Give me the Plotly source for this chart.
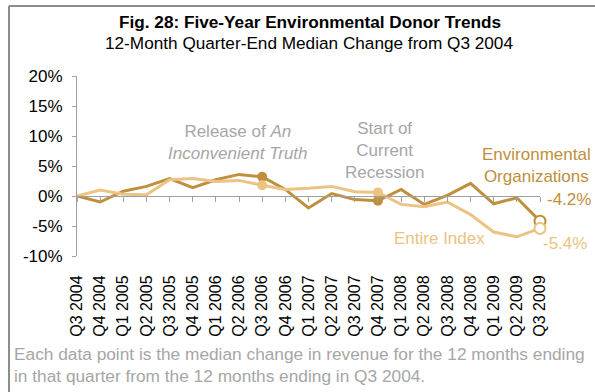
import plotly.graph_objects as go

# Quarter-end labels, Q3 2004 through Q3 2009
quarters = ["Q3 2004", "Q4 2004", "Q1 2005", "Q2 2005", "Q3 2005", "Q4 2005",
            "Q1 2006", "Q2 2006", "Q3 2006", "Q4 2006", "Q1 2007", "Q2 2007",
            "Q3 2007", "Q4 2007", "Q1 2008", "Q2 2008", "Q3 2008", "Q4 2008",
            "Q1 2009", "Q2 2009", "Q3 2009"]

# Median 12-month change from Q3 2004 (%)
env_orgs = [0.0, -1.0, 0.8, 1.6, 2.9, 1.4, 2.7, 3.6, 3.2, 1.1, -2.0, 0.4,
            -0.6, -0.8, 1.1, -1.4, 0.1, 2.1, -1.3, -0.3, -4.2]
entire_index = [0.0, 1.0, 0.3, 0.2, 2.7, 2.9, 2.4, 2.6, 1.8, 1.1, 1.3, 1.6,
                0.7, 0.6, -1.4, -1.8, -1.0, -3.1, -6.0, -6.8, -5.4]

# Event quarters marked on both lines
event_idx = [8, 13]

y_tickvals = [-10, -5, 0, 5, 10, 15, 20]
y_ticktext = ["-10%", "-5%", "0%", "5%", "10%", "15%", "20%"]

DARK = "#BF8F3D"
LIGHT = "#ECC383"
GRAY_TXT = "#A6A6A6"
AXIS = "#A0A0A0"
FONT = "Liberation Sans, Arial, sans-serif"

W, H = 595, 392
L, R, T, B = 77, 55, 76, 136
PW, PH = W - L - R, H - T - B


def px_x(p):
    return (p - L) / PW


def px_y(p):
    return (H - B - p) / PH


x = list(range(len(quarters)))

fig = go.Figure()

fig.add_trace(go.Scatter(x=x, y=env_orgs, mode="lines",
                         line=dict(color=DARK, width=3), cliponaxis=False,
                         name="Environmental Organizations"))
fig.add_trace(go.Scatter(x=x, y=entire_index, mode="lines",
                         line=dict(color=LIGHT, width=3), cliponaxis=False,
                         name="Entire Index"))

# Filled dots at the two event quarters
fig.add_trace(go.Scatter(x=[x[i] for i in event_idx],
                         y=[env_orgs[i] for i in event_idx], mode="markers",
                         marker=dict(size=10, color=DARK), cliponaxis=False))
fig.add_trace(go.Scatter(x=[x[i] for i in event_idx],
                         y=[entire_index[i] for i in event_idx], mode="markers",
                         marker=dict(size=10, color=LIGHT), cliponaxis=False))

# Open dots at the latest quarter
fig.add_trace(go.Scatter(x=[x[-1]], y=[env_orgs[-1]], mode="markers",
                         marker=dict(size=11, color="white",
                                     line=dict(color=DARK, width=2)),
                         cliponaxis=False))
fig.add_trace(go.Scatter(x=[x[-1]], y=[entire_index[-1]], mode="markers",
                         marker=dict(size=11, color="white",
                                     line=dict(color=LIGHT, width=2)),
                         cliponaxis=False))

# Empty trace that carries the zero-line category axis
fig.add_trace(go.Scatter(x=x, y=[None] * len(x), xaxis="x2",
                         mode="lines", hoverinfo="skip"))

ann = []
ann.append(dict(text="<b>Fig. 28: Five-Year Environmental Donor Trends</b>",
                x=px_x(310), y=px_y(22), xref="paper", yref="paper",
                xanchor="center", yanchor="middle",
                showarrow=False, font=dict(size=17.2, color="black")))
ann.append(dict(text="12-Month Quarter-End Median Change from Q3 2004",
                x=px_x(309), y=px_y(43), xref="paper", yref="paper",
                xanchor="center", yanchor="middle",
                showarrow=False, font=dict(size=17.2, color="black")))
ann.append(dict(text="Each data point is the median change in revenue for the 12 months ending"
                     "<br>in that quarter from the 12 months ending in Q3 2004.",
                x=px_x(12), y=px_y(365), xref="paper", yref="paper",
                xanchor="left", yanchor="middle", align="left",
                showarrow=False, font=dict(size=17.3, color=GRAY_TXT)))
ann.append(dict(text="Release of <i>An</i><br><i>Inconvenient Truth</i>",
                x=6.95, y=9.0, showarrow=False,
                font=dict(size=17, color=GRAY_TXT)))
ann.append(dict(text="Start of<br>Current<br>Recession",
                x=13.3, y=7.6, showarrow=False,
                font=dict(size=17, color=GRAY_TXT)))
ann.append(dict(text="Environmental<br>Organizations",
                x=19.87, y=5.1, showarrow=False,
                font=dict(size=17, color=DARK)))
ann.append(dict(text="Entire Index", x=15.64, y=-7.0, showarrow=False,
                font=dict(size=17, color=LIGHT)))
ann.append(dict(text=f"{env_orgs[-1]:.1f}%", x=x[-1], y=env_orgs[-1],
                xanchor="left", xshift=5, yshift=22, showarrow=False,
                font=dict(size=17, color=DARK)))
ann.append(dict(text=f"{entire_index[-1]:.1f}%", x=x[-1], y=entire_index[-1],
                xanchor="left", xshift=1, yshift=-15, showarrow=False,
                font=dict(size=17, color=LIGHT)))

fig.update_layout(
    width=W, height=H,
    margin=dict(l=L, r=R, t=T, b=B, pad=0),
    paper_bgcolor="white", plot_bgcolor="white",
    showlegend=False,
    font=dict(family=FONT, color="black", size=17),
    annotations=ann,
    xaxis=dict(range=[0, len(x) - 1], tickvals=x, ticktext=quarters,
               tickangle=-90, showgrid=False, zeroline=False, showline=False,
               ticks="outside", ticklen=12, tickcolor="rgba(0,0,0,0)",
               tickfont=dict(size=16, color="black")),
    xaxis2=dict(range=[0, len(x) - 1], overlaying="x", anchor="free",
                position=(0 - y_tickvals[0]) / (y_tickvals[-1] - y_tickvals[0]),
                side="bottom", tickvals=x, showticklabels=False,
                ticks="outside", ticklen=5, tickcolor=AXIS, tickwidth=1,
                showline=True, linecolor=AXIS, linewidth=1,
                showgrid=False, zeroline=False),
    yaxis=dict(range=[y_tickvals[0], y_tickvals[-1]], tickvals=y_tickvals,
               ticktext=y_ticktext, showgrid=False, zeroline=False,
               showline=True, linecolor=AXIS, linewidth=1,
               ticks="outside", ticklen=4, tickcolor=AXIS,
               tickfont=dict(size=17, color="black"), ticklabelstandoff=6),
    shapes=[
        dict(type="line", xref="paper", yref="paper",
             x0=px_x(9), x1=px_x(W + 5), y0=px_y(6), y1=px_y(6),
             line=dict(color="#8C8C8C", width=2)),
        dict(type="line", xref="paper", yref="paper",
             x0=px_x(9), x1=px_x(9), y0=px_y(6), y1=px_y(H + 5),
             line=dict(color="#8C8C8C", width=2)),
    ],
)

fig.write_html("out.html")
